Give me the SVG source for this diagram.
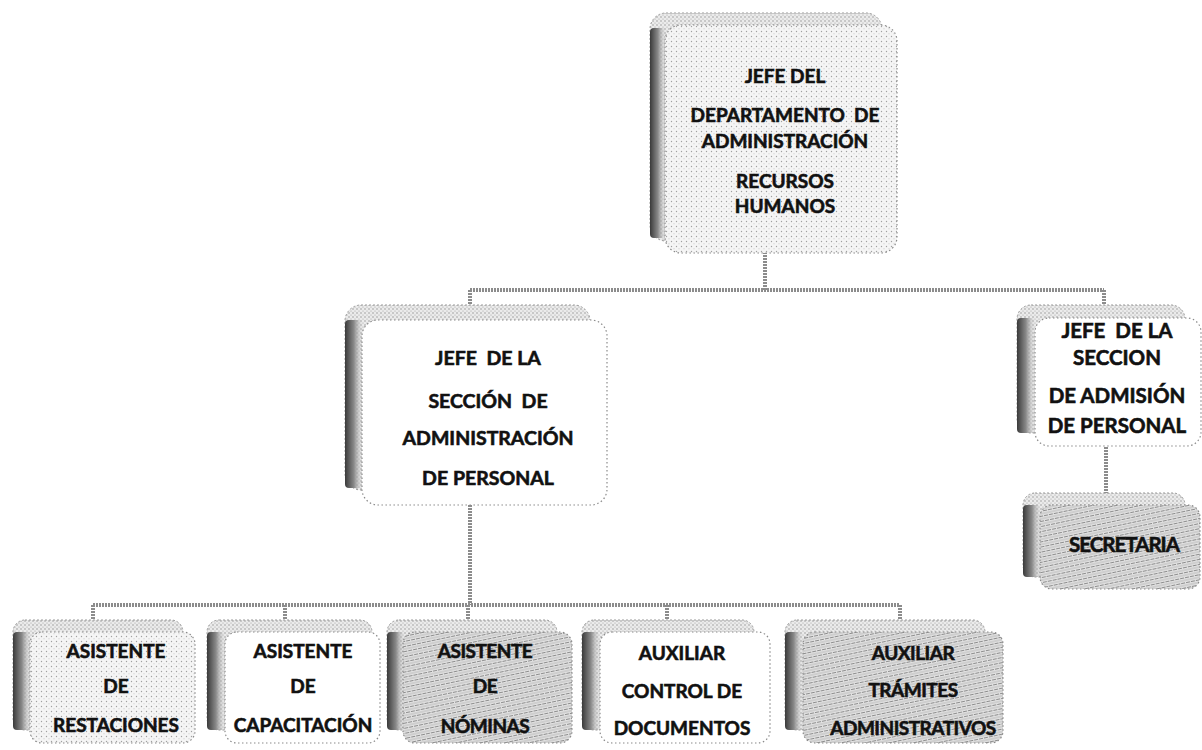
<svg xmlns="http://www.w3.org/2000/svg" width="1202" height="750" viewBox="0 0 1202 750">
<defs>
<pattern id="stip" width="5" height="5" patternUnits="userSpaceOnUse">
<rect width="5" height="5" fill="#f5f5f5"/>
<circle cx="1.5" cy="1.5" r="0.7" fill="#a0a0a0"/>
<circle cx="4" cy="3.8" r="0.5" fill="#bdbdbd"/>
</pattern>
<pattern id="backp" width="4" height="4" patternUnits="userSpaceOnUse">
<rect width="4" height="4" fill="#ebebeb"/>
<circle cx="1" cy="1" r="0.7" fill="#8a8a8a"/>
<circle cx="3" cy="3" r="0.6" fill="#a0a0a0"/>
</pattern>
<pattern id="hatch" width="5" height="5" patternUnits="userSpaceOnUse" patternTransform="rotate(-12)">
<rect width="5" height="5" fill="#e2e2e2"/>
<line x1="0" y1="1.5" x2="5" y2="1.5" stroke="#8d8d8d" stroke-width="1.2" stroke-dasharray="3 1"/>
<line x1="0" y1="4" x2="5" y2="4" stroke="#b0b0b0" stroke-width="0.8"/>
</pattern>
<linearGradient id="edge" x1="0" y1="0" x2="1" y2="0">
<stop offset="0" stop-color="#3a3a3a"/>
<stop offset="0.5" stop-color="#8a8a8a"/>
<stop offset="1" stop-color="#cfcfcf" stop-opacity="0"/>
</linearGradient>
</defs>
<style>
.back{fill:url(#backp);stroke:#9a9a9a;stroke-width:1;stroke-dasharray:2 2}
.edge{fill:url(#edge)}
.front{stroke:#8a8a8a;stroke-width:1.2;stroke-dasharray:1.5 2.5}
.w{fill:#ffffff}
.s{fill:url(#stip)}
.h{fill:url(#hatch)}
.t{font-family:Lato,"Open Sans","Liberation Sans",sans-serif;font-weight:bold;fill:#111;stroke:#111;stroke-width:0.6;text-anchor:middle;white-space:pre}
.conn{fill:none;stroke:#8c8c8c;stroke-width:4;stroke-dasharray:2 1}
</style>

<g id="connectors">
<path class="conn" d="M765 252 V290 M470 290 H1104 M470 290 V308 M1104 290 V308"/>
<path class="conn" d="M1106 447 V494"/>
<path class="conn" d="M470 505 V605 M93 605 H900 M93 605 V622 M285 605 V622 M468 605 V622 M667 605 V622 M900 605 V622"/>
</g>

<g id="n-jefe-depto">
<rect class="back" x="650" y="13" width="232" height="228" rx="16"/>
<rect class="edge" x="650" y="28" width="16" height="210" rx="4"/>
<rect class="front s" x="665" y="25" width="232" height="228" rx="16"/>
<text class="t" font-size="19"><tspan x="785" y="83">JEFE DEL</tspan><tspan x="785" y="122">DEPARTAMENTO  DE</tspan><tspan x="785" y="148">ADMINISTRACIÓN</tspan><tspan x="785" y="188">RECURSOS</tspan><tspan x="785" y="213">HUMANOS</tspan></text>
</g>

<g id="n-jefe-admin">
<rect class="back" x="345" y="305" width="245" height="185" rx="16"/>
<rect class="edge" x="345" y="320" width="18" height="168" rx="4"/>
<rect class="front w" x="362" y="320" width="245" height="185" rx="16"/>
<text class="t" font-size="19.5"><tspan x="488" y="365">JEFE  DE LA</tspan><tspan x="488" y="408">SECCIÓN  DE</tspan><tspan x="488" y="445">ADMINISTRACIÓN</tspan><tspan x="488" y="485">DE PERSONAL</tspan></text>
</g>

<g id="n-jefe-admision">
<rect class="back" x="1017" y="305" width="168" height="128" rx="14"/>
<rect class="edge" x="1017" y="318" width="18" height="115" rx="4"/>
<rect class="front w" x="1035" y="318" width="166" height="128" rx="14"/>
<text class="t" font-size="20.5"><tspan x="1117" y="338">JEFE  DE LA</tspan><tspan x="1117" y="365">SECCION</tspan><tspan x="1117" y="403">DE ADMISIÓN</tspan><tspan x="1117" y="433">DE PERSONAL</tspan></text>
</g>

<g id="n-secretaria">
<rect class="back" x="1023" y="493" width="162" height="84" rx="12"/>
<rect class="edge" x="1023" y="505" width="18" height="72" rx="4"/>
<rect class="front h" x="1040" y="505" width="160" height="84" rx="12"/>
<text class="t" font-size="20.5" x="1124" y="552" letter-spacing="-1">SECRETARIA</text>
</g>

<g id="n-restaciones">
<rect class="back" x="13" y="620" width="170" height="110" rx="12"/>
<rect class="edge" x="13" y="632" width="18" height="98" rx="4"/>
<rect class="front s" x="30" y="632" width="165" height="111" rx="12"/>
<text class="t" font-size="19"><tspan x="116" y="658">ASISTENTE</tspan><tspan x="116" y="693">DE</tspan><tspan x="116" y="732">RESTACIONES</tspan></text>
</g>

<g id="n-capacitacion">
<rect class="back" x="207" y="620" width="165" height="110" rx="12"/>
<rect class="edge" x="207" y="632" width="18" height="98" rx="4"/>
<rect class="front w" x="225" y="632" width="155" height="111" rx="12"/>
<text class="t" font-size="19"><tspan x="303" y="658">ASISTENTE</tspan><tspan x="303" y="693">DE</tspan><tspan x="303" y="732">CAPACITACIÓN</tspan></text>
</g>

<g id="n-nominas">
<rect class="back" x="387" y="620" width="170" height="110" rx="12"/>
<rect class="edge" x="387" y="632" width="18" height="98" rx="4"/>
<rect class="front h" x="403" y="632" width="169" height="111" rx="12"/>
<text class="t" font-size="19" letter-spacing="-0.5"><tspan x="485" y="658">ASISTENTE</tspan><tspan x="485" y="693">DE</tspan><tspan x="485" y="733">NÓMINAS</tspan></text>
</g>

<g id="n-documentos">
<rect class="back" x="582" y="620" width="172" height="110" rx="12"/>
<rect class="edge" x="582" y="632" width="18" height="98" rx="4"/>
<rect class="front w" x="600" y="632" width="170" height="111" rx="12"/>
<text class="t" font-size="19"><tspan x="682" y="660">AUXILIAR</tspan><tspan x="682" y="698">CONTROL DE</tspan><tspan x="682" y="735">DOCUMENTOS</tspan></text>
</g>

<g id="n-tramites">
<rect class="back" x="785" y="620" width="200" height="110" rx="12"/>
<rect class="edge" x="785" y="632" width="18" height="98" rx="4"/>
<rect class="front h" x="803" y="632" width="200" height="111" rx="12"/>
<text class="t" font-size="19" letter-spacing="-0.5"><tspan x="913" y="660">AUXILIAR</tspan><tspan x="913" y="697">TRÁMITES</tspan><tspan x="913" y="735">ADMINISTRATIVOS</tspan></text>
</g>
</svg>
